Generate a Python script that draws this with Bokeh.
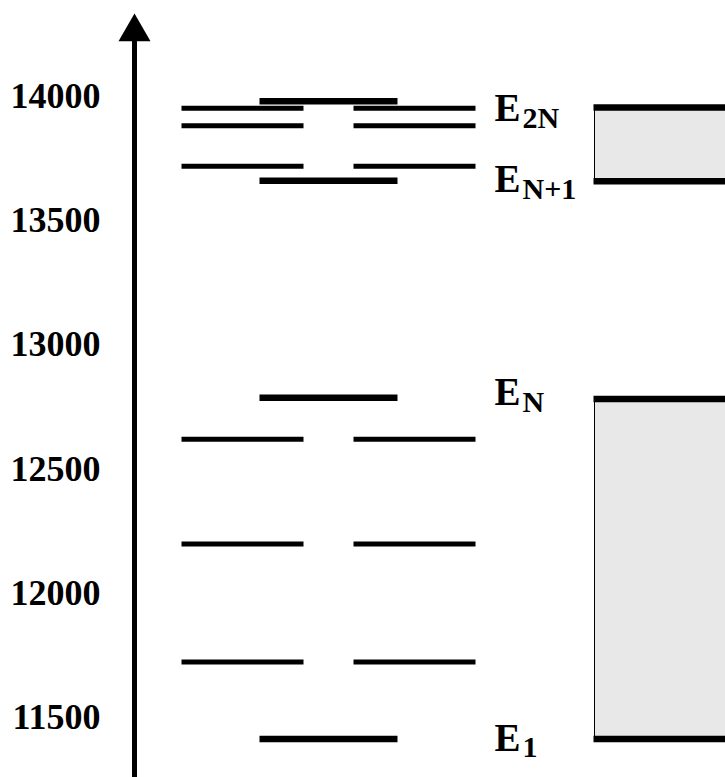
from bokeh.plotting import figure
from bokeh.models import Range1d, FixedTicker
from bokeh.embed import file_html
from bokeh.resources import INLINE
from bokeh.core.properties import value

# Energy levels (cm^-1)
outer_levels = [13949, 13878, 13715, 12618, 12196, 11722]   # left and right columns
center_levels = [13977, 13657, 12785, 11412]                 # centre column
upper_band = [13655, 13952]   # E_{N+1} .. E_{2N}
lower_band = [11412, 12780]   # E_1 .. E_N
band_subscripts = ["2N", "N+1", "N", "1"]
band_label_levels = [13952, 13655, 12780, 11412]
tick_values = [11500, 12000, 12500, 13000, 13500, 14000]

# vertical scale: pixels per cm^-1, and where 14000 sits from the top
PX_PER_UNIT = 124.34 / 500
TOP_OFFSET = 95
H, W = 777, 725
LEFT_BORDER = 110
AXIS_X = 24  # axis position, px right of the frame's left edge

y_top = 14000 + TOP_OFFSET / PX_PER_UNIT
y_bottom = 14000 - (H - TOP_OFFSET) / PX_PER_UNIT


def units_down(px):
    """convert a downward pixel distance into energy units"""
    return px / PX_PER_UNIT


p = figure(width=W, height=H, output_backend="svg", toolbar_location=None,
           x_range=Range1d(-AXIS_X, W - LEFT_BORDER - AXIS_X),
           y_range=Range1d(y_bottom, y_top),
           min_border_left=LEFT_BORDER, min_border_right=0,
           min_border_top=0, min_border_bottom=0,
           x_axis_location=None, y_axis_location="left")
p.outline_line_color = None
p.grid.visible = False
p.background_fill_color = "white"
p.border_fill_color = "white"

ax = p.yaxis[0]
ax.ticker = FixedTicker(ticks=tick_values)
ax.axis_line_color = None
ax.major_tick_line_color = None
ax.minor_tick_line_color = None
ax.major_tick_out = 0
ax.major_tick_in = 0
ax.major_label_standoff = 10
ax.major_label_text_font = "Liberation Serif"
ax.major_label_text_font_style = "bold"
ax.major_label_text_font_size = "36px"
ax.major_label_text_color = "black"

# energy axis with arrow head
arrow_center = y_top - units_down(31.5)
p.segment(x0=[0], y0=[y_bottom], x1=[0], y1=[arrow_center],
          line_color="black", line_width=5)
p.scatter(x=[0], y=[arrow_center], marker="triangle", size=32,
          fill_color="black", line_color=None)

# shaded bands
for lo, hi in (upper_band, lower_band):
    p.quad(left=[460], right=[640], bottom=[lo], top=[hi],
           fill_color="#e8e8e8", line_color="black", line_width=1)
    p.segment(x0=[459, 459], y0=[lo, hi], x1=[640, 640], y1=[lo, hi],
              line_color="black", line_width=6.5)

# split levels in the outer columns
n = len(outer_levels)
p.segment(x0=[47] * n, y0=outer_levels, x1=[169] * n, y1=outer_levels,
          line_color="black", line_width=5)
p.segment(x0=[219] * n, y0=outer_levels, x1=[341] * n, y1=outer_levels,
          line_color="black", line_width=5)

# centre column levels
m = len(center_levels)
p.segment(x0=[125] * m, y0=center_levels, x1=[263] * m, y1=center_levels,
          line_color="black", line_width=6.5)

# band edge labels E with subscripts
e_drop = [0, -3, -7, -2]
for sub, lvl, d in zip(band_subscripts, band_label_levels, e_drop):
    p.text(x=[360], y=[lvl], text=["E"], y_offset=d,
           text_font=value("Liberation Serif"), text_font_style="bold",
           text_font_size="39px", text_baseline="alphabetic",
           text_align="left", text_color="black")
    p.text(x=[360], y=[lvl], text=[sub], x_offset=28, y_offset=d + 10,
           text_font=value("Liberation Serif"), text_font_style="bold",
           text_font_size="30px", text_baseline="alphabetic",
           text_align="left", text_color="black")

open("out.html", "w").write(file_html(p, INLINE))
